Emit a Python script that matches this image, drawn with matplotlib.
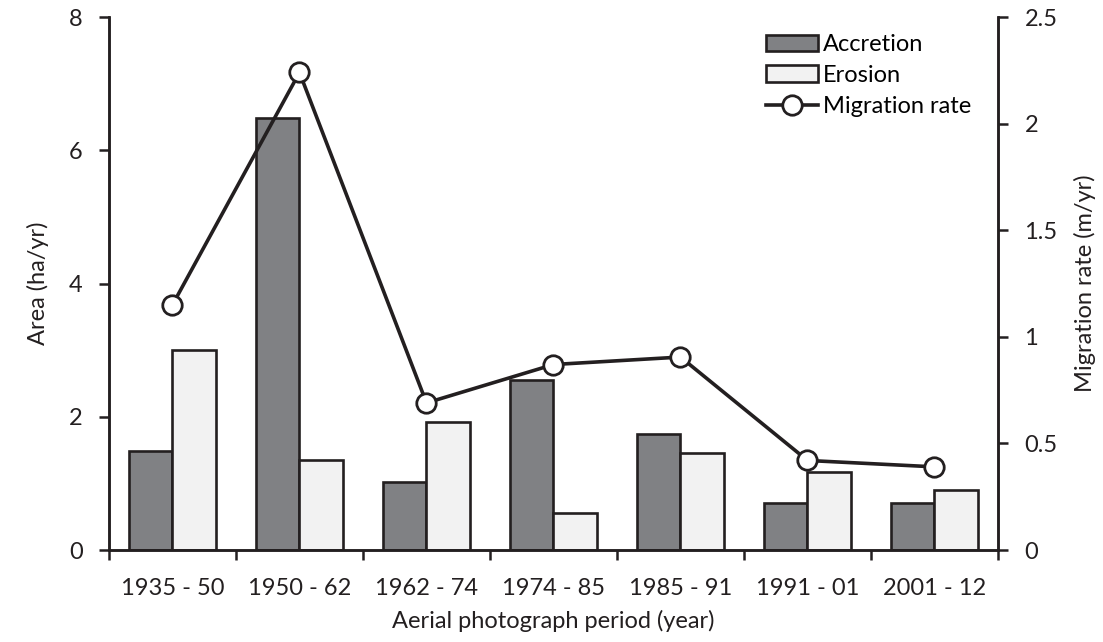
import numpy as np
import matplotlib.pyplot as plt

plt.rcParams['font.family'] = ['Lato', 'DejaVu Sans']

periods = ['1935 - 50', '1950 - 62', '1962 - 74', '1974 - 85', '1985 - 91', '1991 - 01', '2001 - 12']
accretion = [1.48, 6.48, 1.02, 2.55, 1.74, 0.71, 0.71]
erosion = [3.00, 1.35, 1.92, 0.56, 1.46, 1.17, 0.90]
migration = [1.15, 2.24, 0.69, 0.87, 0.905, 0.42, 0.39]

dark = '#231f20'
fs = 17
x = np.arange(len(periods))
w = 0.34

fig = plt.figure(figsize=(11.03, 6.42), dpi=100)
ax = fig.add_axes([0.0988, 0.1433, 0.806, 0.8302])
ax2 = ax.twinx()

ax.bar(x - w / 2, accretion, w, color='#808184', edgecolor=dark, linewidth=1.9, label='Accretion', zorder=2)
ax.bar(x + w / 2, erosion, w, color='#f2f2f2', edgecolor=dark, linewidth=1.9, label='Erosion', zorder=2)
ax2.plot(x, migration, color=dark, linewidth=2.6, marker='o', markersize=14,
         markerfacecolor='white', markeredgecolor=dark, markeredgewidth=2.0, label='Migration rate')

ax.set_xlim(-0.5, len(periods) - 0.5)
ax.set_ylim(0, 8)
ax.set_yticks([0, 2, 4, 6, 8])
ax2.set_ylim(0, 2.5)
ax2.set_yticks([0, 0.5, 1, 1.5, 2, 2.5])
ax2.set_yticklabels(['0', '0.5', '1', '1.5', '2', '2.5'])

ax.set_xticks(x)
ax.set_xticklabels(periods)
ax.set_xticks(np.arange(len(periods) + 1) - 0.5, minor=True)
ax.tick_params(axis='x', which='major', length=0, pad=20)
ax.tick_params(axis='x', which='minor', length=7, width=1.8, color=dark)
ax.tick_params(axis='y', length=7, width=1.8, color=dark, pad=12)
ax2.tick_params(axis='y', length=7, width=1.8, color=dark, pad=12)
for a in (ax, ax2):
    a.tick_params(labelsize=fs, labelcolor=dark)
    for s in a.spines.values():
        s.set_linewidth(1.8)
        s.set_color(dark)
ax.spines['top'].set_visible(False)
ax2.spines['top'].set_visible(False)

ax.set_xlabel('Aerial photograph period (year)', fontsize=fs, color=dark, labelpad=8)
ax.set_ylabel('Area (ha/yr)', fontsize=fs, color=dark, labelpad=14)
ax2.set_ylabel('Migration rate (m/yr)', fontsize=fs, color=dark, labelpad=12)

h1, l1 = ax.get_legend_handles_labels()
h2, l2 = ax2.get_legend_handles_labels()
ax2.legend(h1 + h2, l1 + l2, loc='upper left', bbox_to_anchor=(0.739, 0.968), frameon=False,
           fontsize=fs, handlelength=2.2, handletextpad=0.2, labelspacing=0.42,
           borderaxespad=0, borderpad=0)

fig.savefig('out.png', dpi=100)
